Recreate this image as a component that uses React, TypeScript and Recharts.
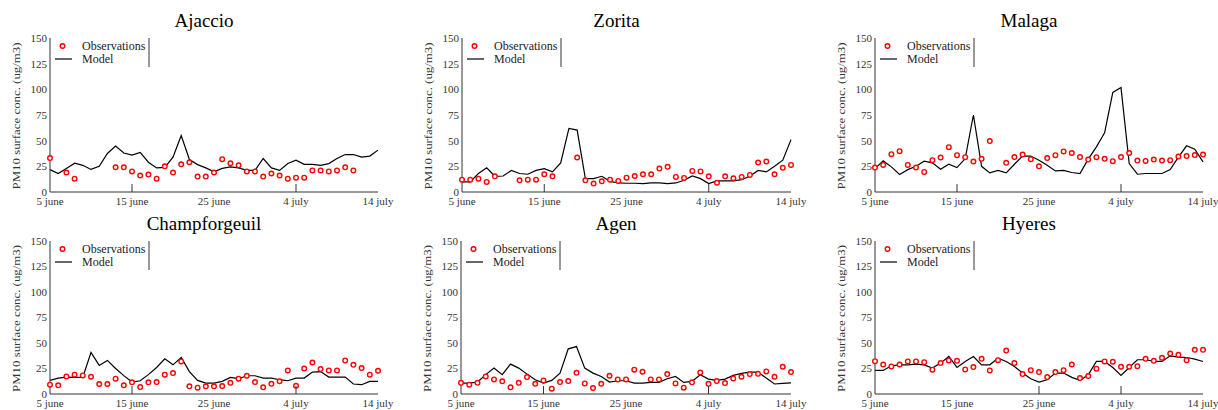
import { ComposedChart, Line, XAxis, YAxis } from "recharts";

const dayTicks = [0, 10, 20, 30, 40];
const dayLabels = ["5 june", "15 june", "25 june", "4 july", "14 july"];
const concTicks = [0, 25, 50, 75, 100, 125, 150];
const upperTicks = [20, 30];
const rightTicks = [12.5, 25, 50, 62.5];

const stations = ["Ajaccio", "Zorita", "Malaga", "Champforgeuil", "Agen", "Hyeres"];

// daily values, 5 june .. 14 july
const ajaccioModel = [21.8, 18, 23, 28, 26, 22, 25, 37.5, 44.7, 38, 36, 38.5, 29, 23.5, 24, 34, 55, 31.6, 26.7, 23.5, 19.6, 23, 24.5, 23.5, 21, 21, 32.6, 23.5, 21, 27.7, 31, 27, 27, 26, 27.7, 32.6, 36.5, 36.5, 34, 35, 40.8];
const ajaccioObs = [33, null, 19, 13, null, null, null, null, 24, 24, 20, 16, 17, 13, 25, 19, 27, 29, 15, 15, 19, 32, 28, 26, 20, 20, 15, 18, 16, 13, 14, 14, 21, 21, 20, 21, 24, 21, null, null, null];

const zoritaModel = [9.8, 9.8, 18, 23.5, 15.3, 15.6, 21, 18, 17.3, 21, 22.8, 19.6, 28.4, 62, 60.3, 13, 13, 15.3, 10.4, 8.8, 8.5, 8.5, 8.2, 8.8, 8.8, 8.2, 8.8, 11.4, 15.6, 13, 8.2, 10.8, 10.8, 10.8, 12, 15.3, 21, 19.6, 25, 31, 51];
const zoritaObs = [12, 12, 13, 9.8, 15.3, null, null, 11.4, 12, 12, 17.3, 15.3, null, null, 33.6, 11.4, 8.2, 10.4, 12, 10.8, 14, 15.6, 17.3, 17.3, 22.8, 24.5, 14.7, 13.7, 20.5, 20, 15.3, 9, 15.3, 13.4, 14.7, 16.6, 28.7, 29.7, 17.3, 23.5, 26.4];

const malagaModel = [22.8, 30.3, 24.5, 17, 21.8, 25, 30, 28.4, 22.2, 27, 23.8, 32.6, 75, 25, 18.6, 21, 18.6, 27, 35, 35, 31, 26, 20.5, 21, 19, 18, 32, 44, 57.7, 97, 101.7, 27.7, 17.3, 18, 18, 18, 21.8, 34, 45, 41.7, 29.3];
const malagaObs = [23.8, 26.4, 36.8, 39.8, 26.4, 23.8, 19.6, 31, 33.6, 43.7, 35.9, 33.9, 29.7, 32.3, 49.6, null, 28.4, 34, 36.5, 32, 25, 33, 35.9, 39.5, 38, 34, 31.6, 33.9, 32.3, 30, 34, 38, 30.6, 30.3, 31.6, 30.6, 31, 34.6, 35, 36, 36.5];

const champforgeuilModel = [13.3, 15.6, 16.6, 16.3, 16.6, 40.7, 28, 32.9, 25, 18, 11.7, 13, 19, 26, 34.5, 28.6, 35.8, 22, 13.3, 10.7, 10.7, 12.4, 16.3, 15, 17.9, 17.9, 15.6, 15.6, 14, 13, 15.6, 15.6, 21.5, 22, 16.6, 16.6, 16.6, 9.8, 9.1, 12.4, 12.4];
const champforgeuilObs = [9.1, 8.5, 17.2, 18.9, 18.2, 16.9, 9.8, 9.8, 15, 8.5, 11.4, 6.8, 11.4, 11.7, 18.9, 20.5, 31.9, 7.5, 6.2, 7.5, 7.5, 7.8, 11, 15, 17.9, 11.7, 6.5, 10, 12.4, 23.1, 8.1, 25, 30.9, 24.4, 23.1, 23.1, 32.9, 28.6, 25.4, 18.9, 22.8];

const agenModel = [10.7, 10.7, 11.7, 19, 25.4, 18.9, 29.3, 25.4, 19.5, 14, 10.7, 13.3, 20.5, 44.3, 46.5, 25.4, 20.5, 17.2, 11.7, 13, 13, 10.7, 10.7, 11.4, 11.4, 15, 17.2, 11.4, 12.4, 18.9, 14.6, 13.3, 14.6, 18.2, 20.2, 21.5, 21.5, 15.6, 9.8, 10.4, 11];
const agenObs = [11, 9.1, 11, 17.2, 14.3, 12.4, 6.5, 11, 16.6, 10, 13.3, 5.2, 11.7, 12.7, 20.8, 10.4, 5.9, 10, 17.9, 14.3, 14.3, 23.8, 21.8, 14.3, 14.3, 19.5, 10.4, 6.2, 11.4, 21.2, 10, 12.7, 10.7, 15.3, 16.9, 19.5, 19.8, 22.1, 16.9, 26.7, 21.5];

const hyeresModel = [23.1, 23.1, 27.7, 28.6, 28.6, 29.3, 28.6, 25.4, 30.3, 36.8, 26, 31.9, 36.8, 28.6, 28.6, 35.1, 31.9, 27, 20.5, 15, 11.7, 14, 20.5, 20.5, 16.3, 13.3, 18.9, 31.9, 31.9, 26, 18.2, 26, 33.6, 33.6, 31.9, 31.9, 37.4, 36.1, 35.8, 34.2, 31.9];
const hyeresObs = [32.2, 28.9, 27, 28.9, 31.9, 31.9, 31.2, 23.8, 30.3, 32.9, 32.5, 24.1, 26.4, 34.5, 23.1, 33.2, 42.6, 30.3, 19.5, 23.4, 21.5, 16.6, 21.5, 23.4, 28.9, 15.6, 17.6, 24.8, 31.9, 31.6, 26.7, 26.7, 27.3, 34.5, 32.5, 35.5, 39.7, 38.4, 33.2, 43.3, 43.3];

const models = [ajaccioModel, zoritaModel, malagaModel, champforgeuilModel, agenModel, hyeresModel];
const observations = [ajaccioObs, zoritaObs, malagaObs, champforgeuilObs, agenObs, hyeresObs];

const FONT = "'Liberation Serif', 'DejaVu Serif', serif";
const H = 216; // a bit taller than the 205px cell so tick label descenders are not clipped

// panel placement: x/y of the cell, cell width, plot box inside the cell
const boxes = [
  { x: 0, y: 0, w: 406, left: 50, right: 378, top: 38, bottom: 192, inner: [10, 30] },
  { x: 405, y: 0, w: 406, left: 57, right: 386, top: 38, bottom: 192, inner: [10, 30] },
  { x: 810, y: 0, w: 408, left: 65, right: 393, top: 38, bottom: 192, inner: [10, 30] },
  { x: 0, y: 205, w: 406, left: 50, right: 378, top: 36, bottom: 189, inner: [10, 30] },
  { x: 405, y: 205, w: 406, left: 56, right: 386, top: 36, bottom: 189, inner: [10, 30] },
  { x: 810, y: 205, w: 408, left: 65, right: 393, top: 36, bottom: 189, inner: [20, 30] },
];

type Box = (typeof boxes)[number];

function Panel({ title, model, obs, box }: { title: string; model: number[]; obs: (number | null)[]; box: Box }) {
  const data = model.map((m, i) => ({ day: i, model: m, obs: obs[i] }));
  const xh = 14;
  const midY = (box.top + box.bottom) / 2 + 1;

  const renderTick = (props: any) => {
    const { x, payload } = props;
    const i = dayTicks.indexOf(payload.value);
    return (
      <g>
        {box.inner.includes(payload.value) && (
          <line x1={x} x2={x} y1={box.bottom} y2={box.bottom - 8} stroke="#333" strokeWidth={1} />
        )}
        <text x={x} y={box.bottom + 13} textAnchor="middle" fontFamily={FONT} fontSize={11} fill="#333">
          {dayLabels[i]}
        </text>
      </g>
    );
  };

  return (
    <div style={{ position: "absolute", left: box.x, top: box.y, width: box.w, height: H }}>
      <ComposedChart
        width={box.w}
        height={H}
        data={data}
        margin={{ top: box.top, right: box.w - box.right, bottom: H - box.bottom - xh, left: 0 }}
      >
        <XAxis
          dataKey="day"
          type="number"
          domain={[0, 40]}
          ticks={dayTicks}
          interval={0}
          height={xh}
          tickLine={false}
          tickSize={0}
          tickMargin={0}
          axisLine={{ stroke: "#333" }}
          tick={renderTick}
        />
        <XAxis
          xAxisId="top"
          orientation="top"
          mirror
          type="number"
          domain={[0, 40]}
          ticks={upperTicks}
          height={0}
          tick={false}
          axisLine={false}
          tickSize={8}
          tickLine={{ stroke: "#555" }}
        />
        <YAxis
          domain={[0, 150]}
          ticks={concTicks}
          interval={0}
          width={box.left}
          tickLine={false}
          tickSize={0}
          tickMargin={3}
          axisLine={{ stroke: "#333" }}
          tick={{ fill: "#333", fontSize: 11, fontFamily: FONT }}
        />
        <YAxis
          yAxisId="right"
          orientation="right"
          mirror
          domain={[0, 150]}
          ticks={rightTicks}
          width={0}
          tick={false}
          axisLine={false}
          tickSize={9}
          tickLine={{ stroke: "#aaa" }}
        />
        <Line
          dataKey="model"
          type="linear"
          stroke="#000"
          strokeWidth={1.2}
          dot={false}
          activeDot={false}
          isAnimationActive={false}
        />
        <Line
          dataKey="obs"
          type="linear"
          stroke="none"
          dot={{ r: 2.3, stroke: "#ff0000", strokeWidth: 1.4, fill: "#fff" }}
          activeDot={false}
          isAnimationActive={false}
        />
      </ComposedChart>

      <svg
        width={box.w}
        height={H}
        style={{ position: "absolute", left: 0, top: 0, pointerEvents: "none" }}
      >
        <text
          x={(box.left + box.right) / 2 - 10}
          y={box.top - 11}
          textAnchor="middle"
          fontFamily={FONT}
          fontSize={19}
          fontWeight={400}
          fill="#000"
        >
          {title}
        </text>
        <text
          x={box.left - 34}
          y={midY}
          transform={`rotate(-90 ${box.left - 34} ${midY})`}
          textAnchor="middle"
          dominantBaseline="central"
          fontFamily={FONT}
          fontSize={11}
          fill="#333"
          textLength={147}
          lengthAdjust="spacingAndGlyphs"
        >
          PM10 surface conc. (ug/m3)
        </text>
        <circle cx={box.left + 12.5} cy={box.top + 8} r={2.3} stroke="#ff0000" strokeWidth={1.4} fill="#fff" />
        <text x={box.left + 32} y={box.top + 8} dominantBaseline="central" fontFamily={FONT} fontSize={12} fill="#222">
          Observations
        </text>
        <line x1={box.left + 5} x2={box.left + 22} y1={box.top + 21} y2={box.top + 21} stroke="#000" strokeWidth={1.2} />
        <text x={box.left + 32} y={box.top + 21} dominantBaseline="central" fontFamily={FONT} fontSize={12} fill="#222">
          Model
        </text>
        <line x1={box.left + 99} x2={box.left + 99} y1={box.top} y2={box.top + 29} stroke="#333" strokeWidth={1} />
      </svg>
    </div>
  );
}

export default function App() {
  return (
    <div
      style={{
        position: "absolute",
        left: 0,
        top: 0,
        width: 1218,
        height: 410,
        background: "#fff",
        overflow: "hidden",
      }}
    >
      {stations.map((s, i) => (
        <Panel key={s} title={s} model={models[i]} obs={observations[i]} box={boxes[i]} />
      ))}
    </div>
  );
}
